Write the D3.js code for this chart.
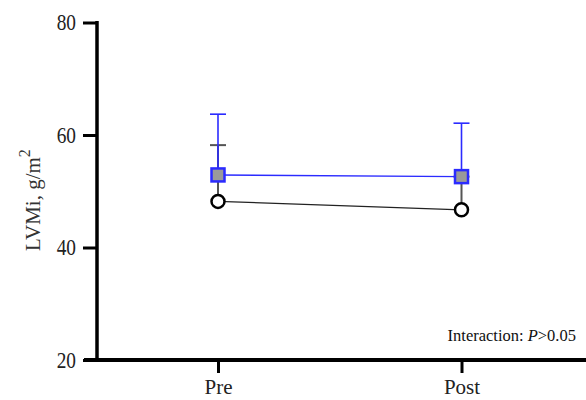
<!DOCTYPE html>
<html><head><meta charset="utf-8">
<script src="https://cdn.jsdelivr.net/npm/d3@7"></script>
<style>body{margin:0;background:#fff}svg{display:block}</style>
</head><body>
<svg id="c" width="586" height="400"></svg>
<script>
const categories = ["Pre", "Post"];
const blueMean = [52.9, 52.6];
const blueUpper = [63.7, 62.1];
const blackMean = [48.2, 46.7];
const blackUpper = [58.2, 52.6];
const yTicks = [20, 40, 60, 80];

const svg = d3.select("#c");
const font = "'Liberation Serif', 'Times New Roman', serif";
const x = d3.scalePoint().domain(categories).range([218, 461.5]);
const y = d3.scaleLinear().domain([20, 80]).range([360, 22.5]);

// axes
const yAxis = svg.append("g").attr("transform", "translate(97,0)")
  .call(d3.axisLeft(y).tickValues(yTicks).tickSize(14).tickPadding(7));
yAxis.select(".domain").remove();
yAxis.selectAll(".tick line").attr("stroke", "#000").attr("stroke-width", 3);
yAxis.selectAll(".tick text").attr("font-family", font).attr("font-size", 21).attr("fill", "#222")
  .attr("transform", "scale(0.92,1.1)").attr("x", -21 / 0.92);
svg.append("line").attr("x1", 97).attr("x2", 97).attr("y1", y(80) - 1.5).attr("y2", 362)
  .attr("stroke", "#000").attr("stroke-width", 3.5);

const xAxis = svg.append("g").attr("transform", "translate(0,360)")
  .call(d3.axisBottom(x).tickSize(13).tickPadding(6));
xAxis.select(".domain").remove();
xAxis.selectAll(".tick line").attr("stroke", "#000").attr("stroke-width", 3);
xAxis.selectAll(".tick text").attr("font-family", font).attr("font-size", 21).attr("fill", "#222");
svg.append("line").attr("x1", 84).attr("x2", 586).attr("y1", 360).attr("y2", 360)
  .attr("stroke", "#000").attr("stroke-width", 4);

// y label
svg.append("text").attr("transform", "translate(40,200) rotate(-90)")
  .attr("text-anchor", "middle").attr("font-family", font).attr("font-size", 21).attr("fill", "#333")
  .call(t => { t.append("tspan").text("LVMi, g/m");
               t.append("tspan").attr("dy", -10).attr("font-size", 16).text("2"); });

// annotation
svg.append("text").attr("x", 576).attr("y", 341).attr("text-anchor", "end")
  .attr("font-family", font).attr("font-size", 16.5).attr("fill", "#111")
  .call(t => { t.append("tspan").text("Interaction: ");
               t.append("tspan").attr("font-style", "italic").text("P");
               t.append("tspan").text(">0.05"); });

const blue = "#2b2bff";
function errBars(mean, upper, color, w) {
  categories.forEach((c, i) => {
    svg.append("line").attr("x1", x(c)).attr("x2", x(c)).attr("y1", y(mean[i])).attr("y2", y(upper[i]))
      .attr("stroke", color).attr("stroke-width", w);
    svg.append("line").attr("x1", x(c) - 8).attr("x2", x(c) + 8).attr("y1", y(upper[i])).attr("y2", y(upper[i]))
      .attr("stroke", color).attr("stroke-width", w);
  });
}
errBars(blackMean, blackUpper, "#555", 2);
errBars(blueMean, blueUpper, blue, 1.6);

const line = d3.line().x((d, i) => x(categories[i])).y(d => y(d));
svg.append("path").datum(blackMean).attr("d", line).attr("fill", "none").attr("stroke", "#222").attr("stroke-width", 1.2);
svg.append("path").datum(blueMean).attr("d", line).attr("fill", "none").attr("stroke", blue).attr("stroke-width", 1.5);

svg.selectAll(".circ").data(blackMean).enter().append("circle")
  .attr("cx", (d, i) => x(categories[i])).attr("cy", d => y(d)).attr("r", 6.5)
  .attr("fill", "#fff").attr("stroke", "#000").attr("stroke-width", 2.5);
svg.selectAll(".sq").data(blueMean).enter().append("rect")
  .attr("x", (d, i) => x(categories[i]) - 6.5).attr("y", d => y(d) - 6.5)
  .attr("width", 13).attr("height", 13)
  .attr("fill", "#9a9a9a").attr("stroke", blue).attr("stroke-width", 2.5);
</script>
</body></html>
